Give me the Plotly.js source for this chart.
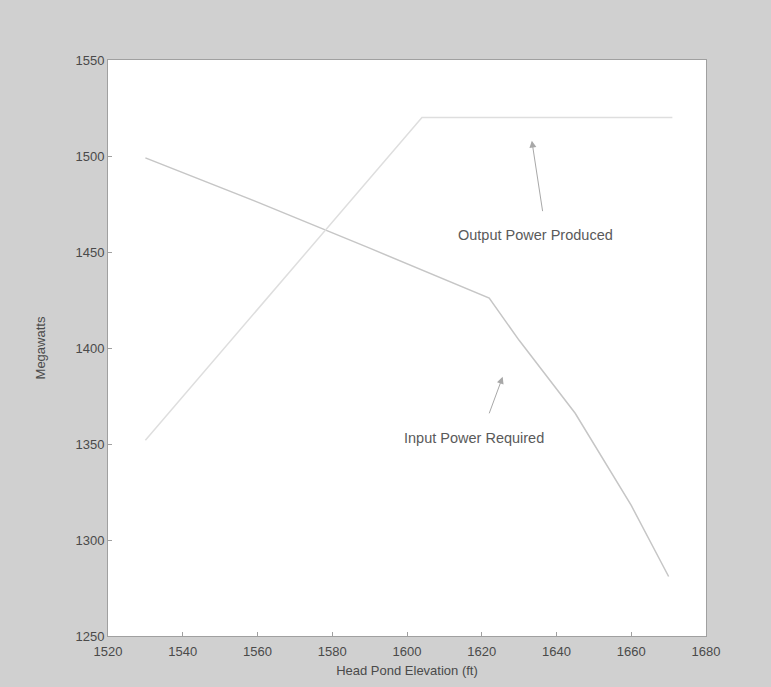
<!DOCTYPE html>
<html>
<head>
<meta charset="utf-8">
<script src="https://cdn.plot.ly/plotly-3.0.1.min.js"></script>
<style>html,body{margin:0;padding:0;background:#d0d0d0;}#chart{width:771px;height:687px;}</style>
</head>
<body>
<div id="chart"></div>
<script>
// Data
const inputElev = [1530, 1560, 1590, 1615, 1622, 1630, 1645, 1660, 1670];
const inputPower = [1499, 1476, 1452, 1432, 1426, 1404, 1366, 1318, 1281];
const outputElev = [1530, 1604, 1671];
const outputPower = [1352, 1520, 1520];
const xTicks = [1520, 1540, 1560, 1580, 1600, 1620, 1640, 1660, 1680];
const yTicks = [1250, 1300, 1350, 1400, 1450, 1500, 1550];

const font = {family: 'Liberation Sans, Arial, sans-serif', size: 13, color: '#4a4a4a'};
const annFont = {family: 'Liberation Sans, Arial, sans-serif', size: 14.5, color: '#5a5a5a'};

const traces = [
  {x: inputElev, y: inputPower, type: 'scatter', mode: 'lines', name: 'Input Power Required',
   line: {color: '#c6c6c6', width: 1.5}},
  {x: outputElev, y: outputPower, type: 'scatter', mode: 'lines', name: 'Output Power Produced',
   line: {color: '#dedede', width: 1.5}}
];

const layout = {
  width: 771, height: 687,
  margin: {l: 108, r: 65, t: 60, b: 51},
  paper_bgcolor: '#d0d0d0',
  plot_bgcolor: '#ffffff',
  showlegend: false,
  font: font,
  xaxis: {
    range: [1520, 1680], tickvals: xTicks, ticktext: xTicks.map(String),
    showgrid: false, zeroline: false, showline: true, mirror: true,
    linecolor: '#a0a0a0', linewidth: 1, ticks: 'inside', ticklen: 4, tickcolor: '#a0a0a0',
    tickfont: font, ticklabelstandoff: 3,
    title: {text: 'Head Pond Elevation (ft)', font: font, standoff: 8}
  },
  yaxis: {
    range: [1250, 1550], tickvals: yTicks, ticktext: yTicks.map(String),
    showgrid: false, zeroline: false, showline: true, mirror: true,
    linecolor: '#a0a0a0', linewidth: 1, ticks: 'inside', ticklen: 4, tickcolor: '#a0a0a0',
    tickfont: font,
    title: {text: 'Megawatts', font: font, standoff: 26}
  },
  annotations: [
    {x: 1633.4, y: 1508, xref: 'x', yref: 'y', text: '', showarrow: true,
     ax: 11, ay: 72, arrowhead: 2, arrowsize: 1.4, arrowwidth: 1, arrowcolor: '#a8a8a8'},
    {x: 1634.5, y: 1459, xref: 'x', yref: 'y', text: 'Output Power Produced', showarrow: false,
     font: annFont},
    {x: 1625.6, y: 1385, xref: 'x', yref: 'y', text: '', showarrow: true,
     ax: -14, ay: 38, arrowhead: 2, arrowsize: 1.4, arrowwidth: 1, arrowcolor: '#a8a8a8'},
    {x: 1618, y: 1353, xref: 'x', yref: 'y', text: 'Input Power Required', showarrow: false,
     font: annFont}
  ]
};

Plotly.newPlot('chart', traces, layout, {displayModeBar: false, staticPlot: true});
</script>
</body>
</html>
